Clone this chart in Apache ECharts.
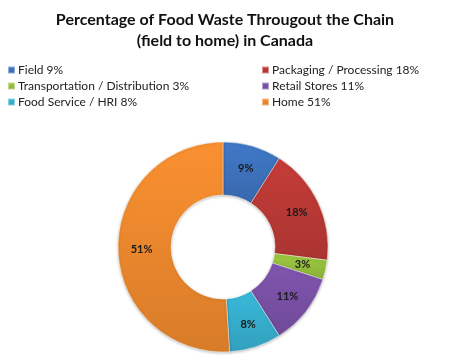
<!DOCTYPE html>
<html><head><meta charset="utf-8">
<script src="https://cdn.jsdelivr.net/npm/echarts@6/dist/echarts.min.js"></script>
<style>html,body{margin:0;padding:0;background:#fff}#c{width:450px;height:360px}</style>
</head><body><div id="c"></div>
<script>
var categories = ['Field', 'Packaging / Processing', 'Transportation / Distribution', 'Retail Stores', 'Food Service / HRI', 'Home'];
var values = [9, 18, 3, 11, 8, 51];
var colors = ['#3e74c0', '#bd3a36', '#98c23e', '#7b52a8', '#37b2d2', '#f08a2e'];
var leftLegend = ['Field', 'Transportation / Distribution', 'Food Service / HRI'];
var rightLegend = ['Packaging / Processing', 'Retail Stores', 'Home'];

var valueOf = {};
categories.forEach(function (c, i) { valueOf[c] = values[i]; });

function shade(hex, f) {
  var n = parseInt(hex.slice(1), 16);
  var r = (n >> 16) & 255, g = (n >> 8) & 255, b = n & 255;
  r = Math.round(r * f); g = Math.round(g * f); b = Math.round(b * f);
  return 'rgb(' + Math.min(255, r) + ',' + Math.min(255, g) + ',' + Math.min(255, b) + ')';
}

var chart = echarts.init(document.getElementById('c'), null, {renderer: 'canvas'});
var legendCommon = {
  orient: 'vertical', itemWidth: 7, itemHeight: 7, itemGap: 4, icon: 'rect',
  textStyle: {fontFamily: 'Lato', fontSize: 12, color: '#222', padding: [0, 0, 0, -2]},
  formatter: function (n) { return n + ' ' + valueOf[n] + '%'; },
  selectedMode: false, padding: 0
};
chart.setOption({
  animation: false,
  title: {
    text: 'Percentage of Food Waste Througout the Chain\n(field to home) in Canada',
    left: 'center', top: 4,
    textStyle: {fontFamily: 'Lato', fontWeight: 'bold', fontSize: 16, color: '#111', lineHeight: 21}
  },
  legend: [
    Object.assign({}, legendCommon, {data: leftLegend, left: 7, top: 64}),
    Object.assign({}, legendCommon, {data: rightLegend, left: 261, top: 64})
  ],
  series: [{
    type: 'pie',
    center: [223, 247],
    radius: [52, 105],
    startAngle: 90,
    clockwise: true,
    data: categories.map(function (c, i) {
      return {
        name: c, value: values[i],
        itemStyle: {
          color: {
            type: 'linear', x: 0, y: 0, x2: 0, y2: 1,
            colorStops: [
              {offset: 0, color: shade(colors[i], 1.04)},
              {offset: 1, color: shade(colors[i], 0.9)}
            ]
          }
        }
      };
    }),
    itemStyle: {borderColor: 'rgba(255,255,255,0.45)', borderWidth: 1, shadowBlur: 3, shadowColor: 'rgba(0,0,0,0.25)', shadowOffsetY: 1},
    label: {
      position: 'inside', formatter: '{c}%',
      fontFamily: 'Lato', fontWeight: 'bold', fontSize: 11, color: '#1a1a1a'
    },
    labelLine: {show: false},
    emphasis: {disabled: true}
  }],
  color: colors
});
</script></body></html>
